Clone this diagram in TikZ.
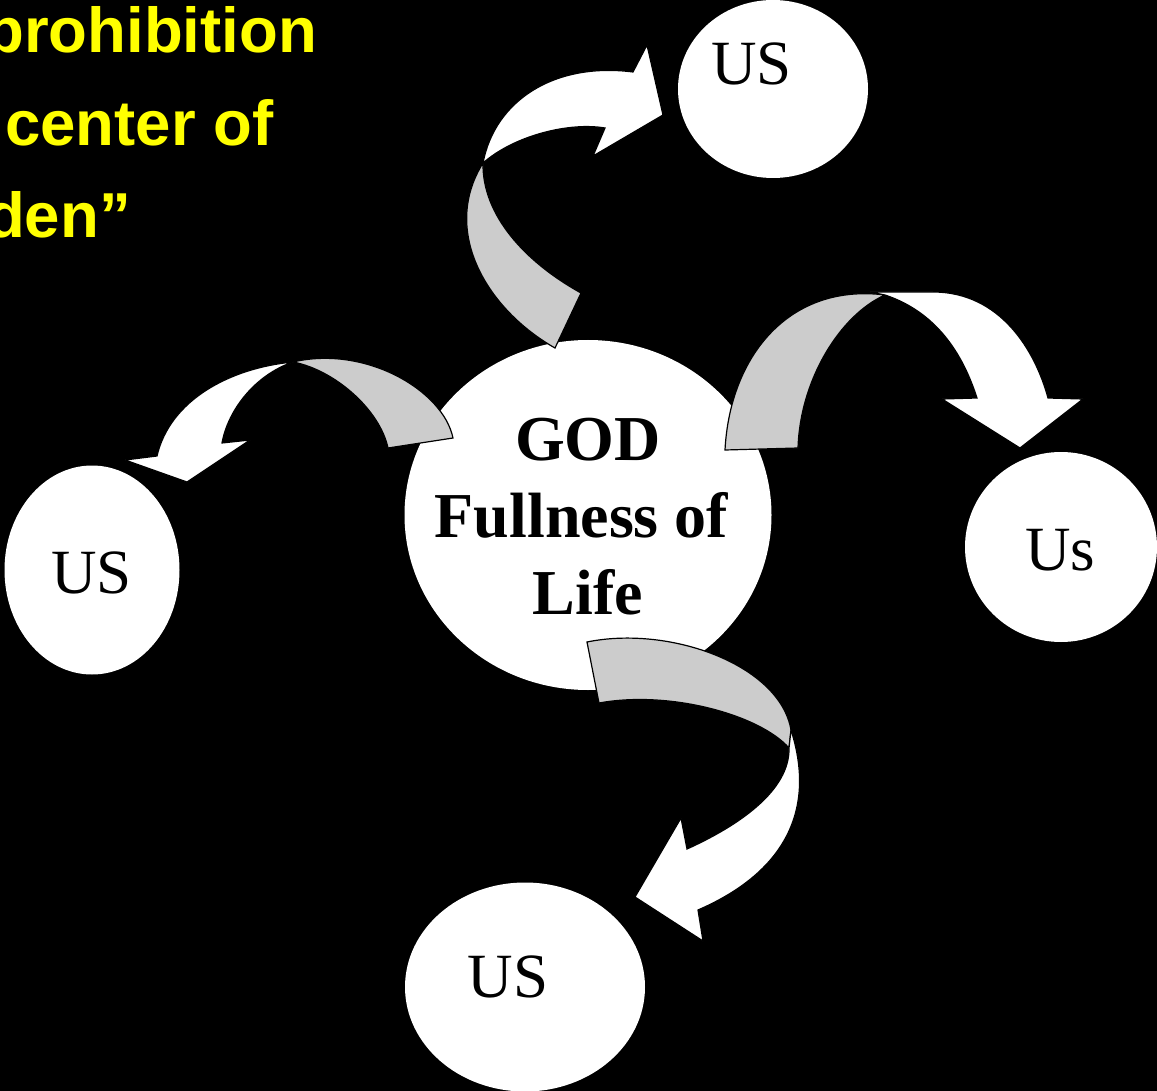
\documentclass[tikz,border=0pt]{standalone}
\usepackage{fontspec}
\setmainfont{Liberation Serif}
\setsansfont{Liberation Sans}
\usetikzlibrary{shapes.geometric}
\definecolor{backgray}{HTML}{CCCCCC}
\definecolor{slideyellow}{RGB}{255,255,0}
\tikzset{
  bubble/.style={ellipse, fill=white, draw=none, inner sep=0pt},
  backface/.style={fill=backgray, draw=black, line width=1.2pt, line join=miter},
  frontface/.style={fill=white, draw=black, line width=1.2pt, line join=miter},
  yeltext/.style={text=slideyellow, font=\fontsize{63.5}{76}\selectfont\sffamily\bfseries, inner sep=0pt},
  ustext/.style={text=black, font=\fontsize{63}{76}\selectfont, inner sep=0pt, anchor=base},
  godtext/.style={text=black, font=\fontsize{64}{77}\selectfont\bfseries, inner sep=0pt, align=center}
}
\begin{document}
\begin{tikzpicture}[x=1pt,y=-1pt]
\useasboundingbox (0,0) rectangle (1157,1091);
\clip (0,0) rectangle (1157,1091);
\fill[black] (0,0) rectangle (1157,1091);

% yellow title (cut off at the left edge, as in the original slide)
\node[yeltext, anchor=base east] (t1) at (317,53) {prohibition};
\node[yeltext, anchor=base west] (t2) at (5,146) {center of};
\node[yeltext, anchor=base east] (t3) at (131,238) {den”};

% ellipses
\node[bubble, minimum width=367pt, minimum height=350pt] (god) at (588,515) {};
\node[bubble, minimum width=190pt, minimum height=178pt] (usTop) at (773,89) {};
\node[bubble, minimum width=175pt, minimum height=209pt] (usLeft) at (92,570) {};
\node[bubble, minimum width=192pt, minimum height=190pt] (usRight) at (1061,547) {};
\node[bubble, minimum width=240pt, minimum height=209pt] (usBottom) at (525,987) {};

% arrow to the top US
\filldraw[backface] (555,348) .. controls (488,310) and (440,232) .. (483,163)
   .. controls (482,215) and (525,262) .. (581,293) -- cycle;
\filldraw[frontface] (483,163) .. controls (495,100) and (555,62) .. (633,72)
   -- (647,45) -- (663,115) -- (593,156) -- (605,128)
   .. controls (570,122) and (515,135) .. (483,163) -- cycle;

% arrow to the left US
\filldraw[backface] (453,438) .. controls (443,390) and (365,345) .. (293,362)
   .. controls (335,370) and (380,410) .. (388,448) -- cycle;
\filldraw[frontface] (293,362) .. controls (230,368) and (170,400) .. (157,456)
   -- (125,460) -- (187,482) -- (250,440) -- (222,443)
   .. controls (228,410) and (255,375) .. (293,362) -- cycle;

% arrow to the right Us
\filldraw[backface] (725,450) .. controls (730,355) and (790,283) .. (885,295)
   .. controls (840,315) and (800,380) .. (798,448) -- cycle;
\filldraw[frontface] (870,292) -- (933,292) .. controls (1000,292) and (1035,350) .. (1048,398)
   -- (1083,399) -- (1020,448) -- (942,399) -- (977,398)
   .. controls (960,345) and (930,310) .. (885,295) -- cycle;

% arrow to the bottom US
\filldraw[backface] (587,642) .. controls (670,625) and (780,665) .. (791,730)
   -- (789,748) .. controls (760,715) and (670,690) .. (599,703) -- cycle;
\filldraw[frontface] (791,730) .. controls (815,805) and (790,870) .. (698,910)
   -- (703,941) -- (635,897) -- (681,818) -- (687,849)
   .. controls (740,825) and (790,790) .. (789,748) -- cycle;

% texts
\node[godtext] (godLabel) at (588,516.5) {GOD\\Fullness of\kern13pt\\Life};
\node[ustext] (usTopLabel) at (751.5,85) {US};
\node[ustext] (usLeftLabel) at (91.5,593) {US};
\node[ustext] (usRightLabel) at (1060,570) {Us};
\node[ustext] (usBottomLabel) at (508,997) {US};
\end{tikzpicture}
\end{document}
